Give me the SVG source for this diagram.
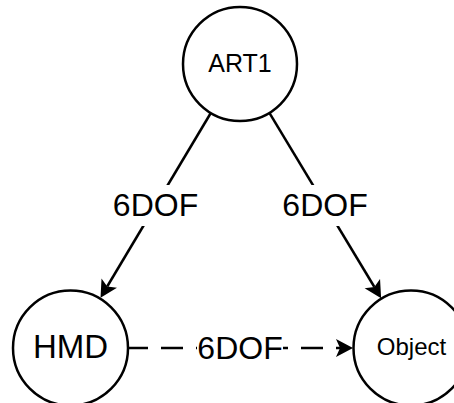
<svg xmlns="http://www.w3.org/2000/svg" width="454" height="403" viewBox="0 0 454 403">
  <style>
    .node { fill: #ffffff; stroke: #000000; stroke-width: 2.5; }
    .edge { fill: none; stroke: #000000; stroke-width: 2.5; }
    .dashed { stroke-dasharray: 22 13; }
    .label-bg { fill: #ffffff; stroke: none; }
    text { font-family: "Liberation Sans", Arial, sans-serif; fill: #000000; text-anchor: middle; }
    .lbl { font-size: 32px; }
  </style>
  <defs>
    <marker id="arrow" viewBox="0 0 17 19" refX="4" refY="9.5" markerWidth="17" markerHeight="19" markerUnits="userSpaceOnUse" orient="auto">
      <path d="M0,0.5 L17,9.5 L0,18.5 L4,9.5 Z" fill="#000000"/>
    </marker>
  </defs>
  <rect width="454" height="403" fill="#ffffff"/>

  <g id="connectors">
    <path class="edge" d="M210.8,113 L107.2,286.5" marker-end="url(#arrow)"/>
    <path class="edge" d="M269.4,112.8 L374.4,287.0" marker-end="url(#arrow)"/>
    <path class="edge dashed" d="M126,348 L340,348" marker-end="url(#arrow)"/>
    <rect class="label-bg" x="112" y="185" width="88" height="41"/>
    <text class="lbl" x="155.5" y="215.5">6DOF</text>
    <rect class="label-bg" x="280" y="185" width="88" height="41"/>
    <text class="lbl" x="325" y="215.5">6DOF</text>
    <rect class="label-bg" x="197" y="328" width="86" height="40"/>
    <text class="lbl" x="240" y="359">6DOF</text>
  </g>

  <g id="art1">
    <circle class="node" cx="240" cy="64" r="57"/>
    <text x="240" y="71.5" font-size="25">ART1</text>
  </g>
  <g id="hmd">
    <circle class="node" cx="70.5" cy="348" r="57.5"/>
    <text x="70.5" y="358" font-size="33">HMD</text>
  </g>
  <g id="object">
    <circle class="node" cx="411" cy="348" r="57.5"/>
    <text x="411.5" y="355" font-size="24">Object</text>
  </g>
</svg>
